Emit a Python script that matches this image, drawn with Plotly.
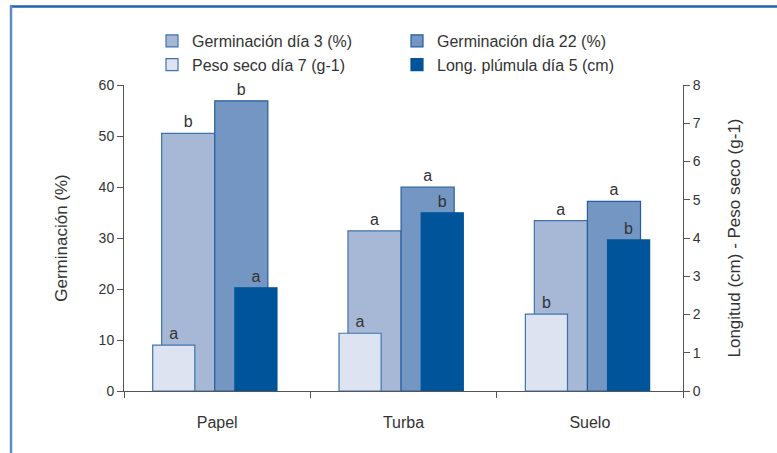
import plotly.graph_objects as go

categories = ["Papel", "Turba", "Suelo"]
germ_d3 = [50.5, 31.4, 33.4]
germ_d22 = [56.9, 40.0, 37.2]
peso_d7 = [1.2, 1.51, 2.01]
long_d5 = [2.7, 4.66, 3.95]
lab_d3 = ["b", "a", "a"]
lab_d22 = ["b", "a", "a"]
lab_peso = ["a", "a", "b"]
lab_long = ["a", "b", "b"]

FONT = "Arial, Liberation Sans, sans-serif"
TXT = "#333333"
shift = -0.013

def bar(name, y, txt, fill, line, width, offset, yaxis):
    return go.Bar(
        name=name, x=categories, y=y, text=txt, textposition="outside",
        textfont=dict(size=16, color=TXT, family=FONT), cliponaxis=False,
        marker=dict(color=fill, line=dict(color=line, width=1.2)),
        width=width, offset=offset + shift, yaxis=yaxis,
    )

fig = go.Figure()
fig.add_trace(bar("Germinación día 3 (%)", germ_d3, lab_d3, "#A6B8D6", "#3E74AE", 0.285, -0.285, "y"))
fig.add_trace(bar("Germinación día 22 (%)", germ_d22, lab_d22, "#7496C2", "#255E9C", 0.285, 0.0, "y"))
fig.add_trace(bar("Peso seco día 7 (g-1)", peso_d7, lab_peso, "#DDE3F0", "#3E74AE", 0.226, -0.333, "y2"))
fig.add_trace(bar("Long. plúmula día 5 (cm)", long_d5, lab_long, "#00559A", "#00559A", 0.226, 0.108, "y2"))

L, R, T, B = 124, 683, 85, 391
W, H = 777, 453
def px(x):
    return (x - L) / (R - L)
def py(y):
    return (B - y) / (B - T)

fig.update_layout(
    width=W, height=H, barmode="overlay",
    margin=dict(l=L, r=W - R, t=T, b=H - B),
    paper_bgcolor="white", plot_bgcolor="white",
    font=dict(family=FONT, color=TXT, size=14),
    showlegend=True,
    legend=dict(orientation="h", x=px(152), y=py(24), xanchor="left", yanchor="top",
                entrywidth=200, font=dict(size=16, color=TXT, family=FONT),
                bgcolor="rgba(0,0,0,0)", traceorder="normal", itemclick=False),
    xaxis=dict(type="category", tickson="boundaries", ticks="outside", ticklen=6,
               tickcolor="#555", showline=True, linecolor="#555", linewidth=1,
               showgrid=False, zeroline=False, tickfont=dict(size=16, color=TXT),
               ticklabelstandoff=17, range=[-0.5, 2.5]),
    yaxis=dict(range=[0, 60], dtick=10, ticks="outside", ticklen=6, tickcolor="#555",
               showline=True, linecolor="#555", linewidth=1, showgrid=False, zeroline=False,
               tickfont=dict(size=14, color=TXT),
               title=dict(text="Germinación (%)", font=dict(size=17, color=TXT), standoff=26)),
    yaxis2=dict(range=[0, 8], dtick=1, overlaying="y", side="right", ticks="outside",
                ticklen=6, tickcolor="#555", showline=True, linecolor="#555", linewidth=1,
                showgrid=False, zeroline=False, tickfont=dict(size=14, color=TXT),
                title=dict(text="Longitud (cm) - Peso seco (g-1)", font=dict(size=17, color=TXT), standoff=28)),
)

fig.add_shape(type="line", xref="paper", yref="paper", x0=px(10), x1=px(W + 5), y0=py(6.5), y1=py(6.5),
              line=dict(color="#1F63AA", width=2.5), layer="above")
fig.add_shape(type="line", xref="paper", yref="paper", x0=px(11), x1=px(11), y0=py(5.5), y1=py(H + 5),
              line=dict(color="#5A8FC2", width=2.5), layer="above")

fig.write_html("out.html", post_script="document.body.style.margin='0';",
               config={"displayModeBar": False})
